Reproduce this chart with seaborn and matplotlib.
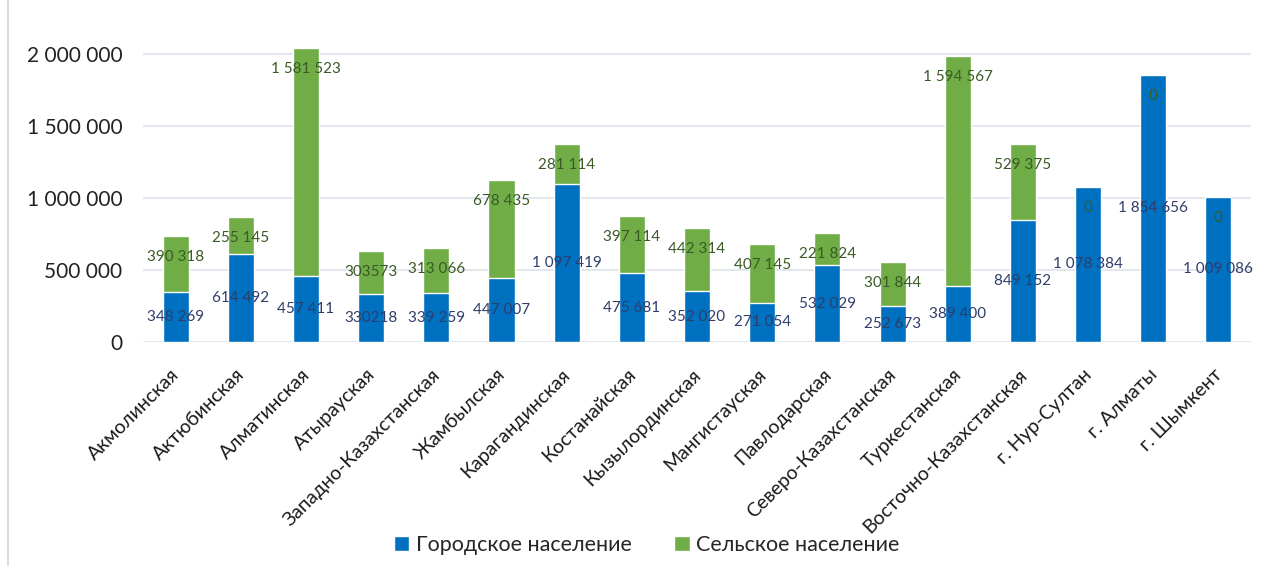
import matplotlib
matplotlib.use('Agg')
import matplotlib.pyplot as plt
import matplotlib.transforms as mtransforms
from matplotlib.patches import Patch
import seaborn as sns
import pandas as pd

# Данные: население по регионам
regions = ['Акмолинская', 'Актюбинская', 'Алматинская', 'Атырауская',
           'Западно-Казахстанская', 'Жамбылская', 'Карагандинская',
           'Костанайская', 'Кызылординская', 'Мангистауская', 'Павлодарская',
           'Северо-Казахстанская', 'Туркестанская', 'Восточно-Казахстанская',
           'г. Нур-Султан', 'г. Алматы', 'г. Шымкент']
urban = [348269, 614492, 457411, 330218, 339259, 447007, 1097419, 475681,
         352020, 271054, 532029, 252673, 389400, 849152, 1078384, 1854656,
         1009086]
rural = [390318, 255145, 1581523, 303573, 313066, 678435, 281114, 397114,
         442314, 407145, 221824, 301844, 1594567, 529375, 0, 0, 0]
urban_labels = ['348 269', '614 492', '457 411', '330218', '339 259',
                '447 007', '1 097 419', '475 681', '352 020', '271 054',
                '532 029', '252 673', '389 400', '849 152', '1 078 384',
                '1 854 656', '1 009 086']
rural_labels = ['390 318', '255 145', '1 581 523', '303573', '313 066',
                '678 435', '281 114', '397 114', '442 314', '407 145',
                '221 824', '301 844', '1 594 567', '529 375', '0', '0', '0']
yticks = [0, 500000, 1000000, 1500000, 2000000]
ytick_labels = ['0', '500 000', '1 000 000', '1 500 000', '2 000 000']

blue = '#0070C0'
green = '#70AD47'

df = pd.DataFrame({'region': regions, 'urban': urban, 'rural': rural})
df['total'] = df['urban'] + df['rural']

sns.set_style('white')
plt.rcParams['font.family'] = ['Lato', 'DejaVu Sans']

fig = plt.figure(figsize=(12.68, 5.66), dpi=100)
ax = fig.add_axes([0.1128, 0.3958, 0.8738, 0.524])

sns.barplot(data=df, x='region', y='total', color=green, width=0.4,
            saturation=1, ax=ax)
sns.barplot(data=df, x='region', y='urban', color=blue, width=0.4,
            saturation=1, ax=ax)

# Подписи значений
for i in range(len(regions)):
    ax.text(i, urban[i] / 2, urban_labels[i], ha='center', va='center',
            fontsize=11, color='#2F3D6B')
    ax.annotate(rural_labels[i], (i, urban[i] + rural[i]),
                xytext=(0, -21), textcoords='offset pixels',
                ha='center', va='center', fontsize=11, color='#3A5A26')

ax.set_xlim(-0.5, len(regions) - 0.5)
ax.set_ylim(0, 2060000)
ax.set_yticks(yticks)
ax.set_yticklabels(ytick_labels, fontsize=15, color='#222222')
ax.yaxis.grid(True, color='#DDE1EA', linewidth=1.2)
ax.set_axisbelow(True)
ax.tick_params(axis='both', length=0)
ax.tick_params(axis='y', pad=15)
ax.set_xlabel('')
ax.set_ylabel('')
for s in ax.spines.values():
    s.set_visible(False)

ax.set_xticks(range(len(regions)))
ax.set_xticklabels(regions, rotation=45, ha='right', va='center',
                   rotation_mode='anchor', fontsize=14, color='#1A1A1A')
shift = mtransforms.ScaledTranslation(0.01, -0.25, fig.dpi_scale_trans)
for lab in ax.get_xticklabels():
    lab.set_transform(lab.get_transform() + shift)

handles = [Patch(facecolor=blue, label='Городское население'),
           Patch(facecolor=green, label='Сельское население')]
fig.legend(handles=handles, loc='center', bbox_to_anchor=(0.51, 0.037),
           ncol=2, frameon=False, fontsize=15.5, handlelength=0.7,
           handleheight=0.7, handletextpad=0.3, columnspacing=2.0)

# Рамка диаграммы слева
fig.add_artist(plt.Line2D([0.006, 0.006], [0.0, 1.0], color='#D9DDE3',
                          linewidth=1.5, transform=fig.transFigure))

plt.savefig('out.png', dpi=100)
plt.close()
